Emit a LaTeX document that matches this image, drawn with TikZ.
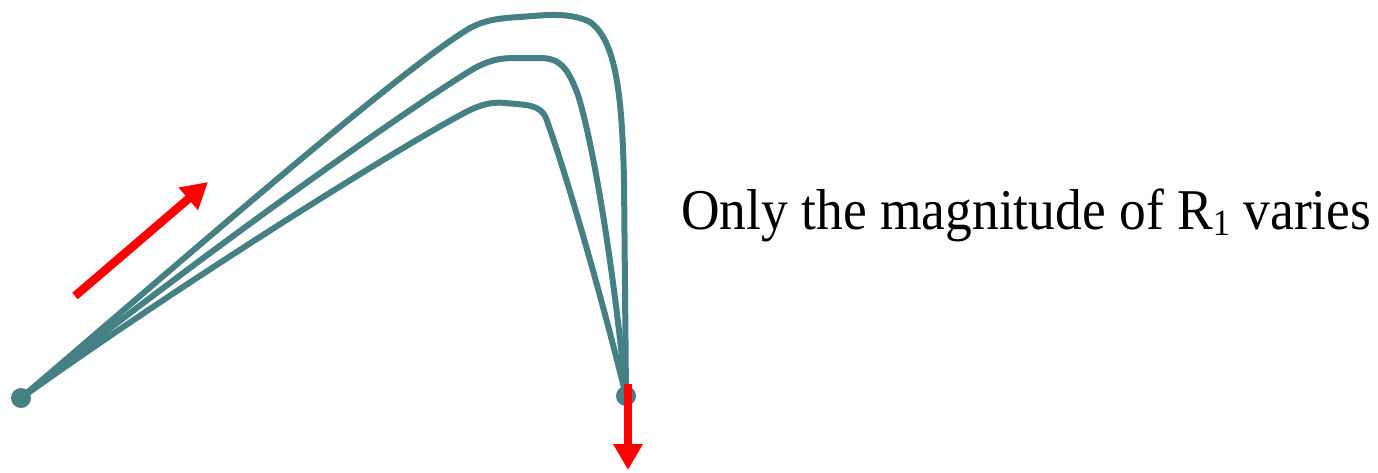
\documentclass[tikz,border=0pt]{standalone}
\usepackage{fontspec}
\setmainfont{Liberation Serif}
\usetikzlibrary{arrows.meta}
\definecolor{teal1}{RGB}{69,128,132}
\tikzset{
  curve/.style={draw=teal1, line width=6pt, line join=round, line cap=round},
  dot/.style={circle, fill=teal1, inner sep=0pt, minimum size=20pt},
  force/.style={draw=red, line width=8.5pt, -{Triangle[length=26pt,width=28pt]}}
}
\begin{document}
\begin{tikzpicture}[x=1pt,y=-1pt]
\useasboundingbox (0,0) rectangle (1378,472);
\coordinate (A) at (21,398);
\coordinate (B) at (626,396);
% outer
\draw[curve] (A) .. controls (200,245) and (400,70) .. (470,28)
  .. controls (485,20) and (500,18) .. (520,17)
  .. controls (545,15) and (570,12) .. (590,22)
  .. controls (615,40) and (622,90) .. (624,180)
  -- (B);
% middle
\draw[curve] (A) .. controls (200,255) and (420,100) .. (475,68)
  .. controls (490,60) and (500,58) .. (515,58)
  -- (540,58)
  .. controls (560,58) and (568,68) .. (578,95)
  .. controls (595,150) and (615,280) .. (B);
% inner
\draw[curve] (A) .. controls (200,270) and (420,135) .. (470,110)
  .. controls (485,103) and (495,102) .. (505,103)
  .. controls (525,105) and (540,104) .. (546,118)
  .. controls (565,170) and (600,290) .. (B);
\node[dot] (dA) at (A) {};
\node[dot] (dB) at (B) {};
\coordinate (r1s) at (75,296);
\coordinate (r1e) at (208,182);
\draw[force] (r1s) -- (r1e);
\coordinate (r2s) at (628,384);
\coordinate (r2e) at (628,470);
\draw[force] (r2s) -- (r2e);
\node[anchor=base west, inner sep=0pt, font=\fontsize{56}{60}\selectfont] (t) at (681,229)
  {\scalebox{0.955}[1.03]{Only the magnitude of R\raisebox{-0.12em}{\fontsize{36}{40}\selectfont 1} varies}};
\end{tikzpicture}
\end{document}
